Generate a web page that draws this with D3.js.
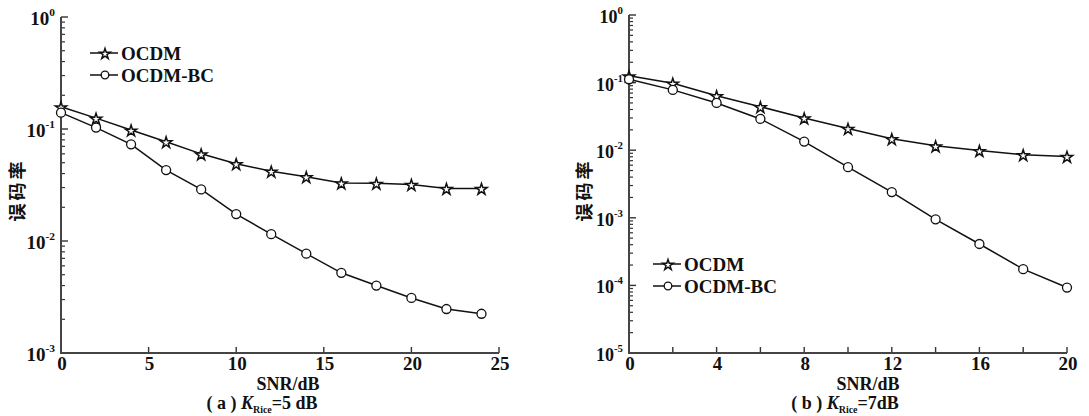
<!DOCTYPE html>
<html>
<head>
<meta charset="utf-8">
<script src="https://cdn.jsdelivr.net/npm/d3@7"></script>
<style>
  body { margin: 0; background: #fff; }
  svg text { font-family: "Liberation Serif", "Times New Roman", serif; font-weight: bold; fill: #111; }
  .cjk { font-family: "Noto Sans CJK SC", sans-serif !important; font-weight: bold; }
</style>
</head>
<body>
<svg id="viz" width="1089" height="416"></svg>
<script>
const svg = d3.select("#viz")

// data
const snrA = [0, 2, 4, 6, 8, 10, 12, 14, 16, 18, 20, 22, 24]
const ocdmA = [0.158, 0.125, 0.098, 0.077, 0.060, 0.049, 0.042, 0.0375, 0.033, 0.0328, 0.032, 0.0295, 0.0295]
const ocdmBcA = [0.14, 0.103, 0.073, 0.043, 0.0289, 0.0174, 0.0115, 0.0077, 0.0052, 0.0040, 0.0031, 0.00247, 0.00224]

const snrB = [0, 2, 4, 6, 8, 10, 12, 14, 16, 18, 20]
const ocdmB = [0.126, 0.098, 0.064, 0.044, 0.030, 0.021, 0.0148, 0.0116, 0.0099, 0.0086, 0.0081]
const ocdmBcB = [0.112, 0.078, 0.05, 0.029, 0.0134, 0.0056, 0.0024, 0.00095, 0.00041, 0.000174, 0.000093]

const seriesNames = ["OCDM", "OCDM-BC"]
const xTicksA = [0, 5, 10, 15, 20, 25]
const xTicksB = [0, 2, 4, 6, 8, 10, 12, 14, 16, 18, 20]
const xLabelsB = [0, 4, 8, 12, 16, 20]

const star = d3.symbol().type(d3.symbolStar)

function drawPanel(opt) {

    const x = d3.scaleLinear().domain(opt.xDomain).range([opt.left, opt.right])
    const y = d3.scaleLog().domain(opt.yDomain).range([opt.bottom, opt.top])
    const g = svg.append("g")

    // log ticks on the y axis, pointing inward
    const exps = d3.range(Math.log10(opt.yDomain[0]), Math.log10(opt.yDomain[1]) + 1)
    exps.forEach(function(e) {
        if (e < Math.log10(opt.yDomain[1])) {
            d3.range(2, 10).forEach(function(m) {
                const v = m * Math.pow(10, e)
                g.append("line")
                    .attr("x1", opt.left).attr("x2", opt.left + 4)
                    .attr("y1", y(v)).attr("y2", y(v))
                    .attr("stroke", "#333").attr("stroke-width", 1.2)
            })
        }
        g.append("line")
            .attr("x1", opt.left).attr("x2", opt.left + 7)
            .attr("y1", y(Math.pow(10, e))).attr("y2", y(Math.pow(10, e)))
            .attr("stroke", "#333").attr("stroke-width", 1.4)

        const t = g.append("text")
            .attr("x", opt.left - 6)
            .attr("y", y(Math.pow(10, e)) + 8)
            .attr("text-anchor", "end")
            .style("font-size", opt.tickFont + "px")
        t.append("tspan").text("10")
        t.append("tspan").attr("dy", -9).style("font-size", (opt.tickFont * 0.6) + "px").text(e)
    })

    // x ticks pointing up
    opt.xTicks.forEach(function(v) {
        g.append("line")
            .attr("x1", x(v)).attr("x2", x(v))
            .attr("y1", opt.bottom).attr("y2", opt.bottom - 6)
            .attr("stroke", "#333").attr("stroke-width", 1.4)
    })
    opt.xLabels.forEach(function(v) {
        g.append("text")
            .attr("x", x(v) + 1).attr("y", opt.bottom + 17)
            .attr("text-anchor", "middle")
            .style("font-size", "19px")
            .text(v)
    })

    // axis lines
    g.append("path")
        .attr("d", "M" + opt.left + "," + opt.top + "V" + opt.bottom + "H" + opt.right)
        .attr("fill", "none").attr("stroke", "#444").attr("stroke-width", 2)

    const line = d3.line()
        .x(function(d) { return x(d[0]) })
        .y(function(d) { return y(d[1]) })

    opt.series.forEach(function(s, i) {
        const pts = opt.xs.map(function(v, j) { return [v, s[j]] })
        g.append("path").datum(pts)
            .attr("d", line)
            .attr("fill", "none").attr("stroke", "#111").attr("stroke-width", 1.5)
        pts.forEach(function(p) { marker(g, i, x(p[0]), y(p[1])) })
    })

    // legend
    seriesNames.forEach(function(name, i) {
        const ly = opt.legend[1] + i * 22
        g.append("line")
            .attr("x1", opt.legend[0]).attr("x2", opt.legend[0] + 28)
            .attr("y1", ly).attr("y2", ly)
            .attr("stroke", "#111").attr("stroke-width", 1.5)
        marker(g, i, opt.legend[0] + 15, ly, true)
        g.append("text")
            .attr("x", opt.legend[0] + 31).attr("y", ly + 7)
            .style("font-size", "19px")
            .text(name)
    })

    // axis titles
    g.append("text")
        .attr("x", opt.xTitleX).attr("y", 390)
        .attr("text-anchor", "middle")
        .style("font-size", "18px")
        .text("SNR/dB")

    g.append("text")
        .attr("class", "cjk")
        .attr("transform", "translate(" + opt.yTitleX + ",190) rotate(-90)")
        .attr("text-anchor", "middle")
        .style("font-size", "18px")
        .style("letter-spacing", "3px")
        .text("误码率")

    const cap = g.append("text")
        .attr("x", opt.capX).attr("y", 409)
        .attr("text-anchor", "middle")
        .style("font-size", "18px")
    cap.append("tspan").text("( " + opt.letter + " ) ")
    cap.append("tspan").style("font-style", "italic").text("K")
    cap.append("tspan").attr("dy", 4).style("font-size", "10px").text("Rice")
    cap.append("tspan").attr("dy", -4).text(opt.kText)
}

function marker(g, i, cx, cy, small) {
    if (i === 0) {
        g.append("path")
            .attr("d", star.size(small ? 34 : 40)())
            .attr("transform", "translate(" + cx + "," + (cy + 1) + ")")
            .attr("fill", "#fff").attr("stroke", "#111").attr("stroke-width", 1.5)
    } else {
        g.append("circle")
            .attr("cx", cx).attr("cy", cy).attr("r", small ? 3.8 : 4.5)
            .attr("fill", "#fff").attr("stroke", "#111").attr("stroke-width", 1.3)
    }
}

drawPanel({
    left: 61, right: 499, top: 17, bottom: 353,
    xDomain: [0, 25], yDomain: [1e-3, 1],
    xTicks: xTicksA, xLabels: xTicksA, xs: snrA,
    series: [ocdmA, ocdmBcA],
    tickFont: 19,
    legend: [90, 53],
    xTitleX: 288, yTitleX: 24, capX: 262,
    letter: "a", kText: "=5 dB"
})

drawPanel({
    left: 629, right: 1067, top: 15, bottom: 353,
    xDomain: [0, 20], yDomain: [1e-5, 1],
    xTicks: xTicksB, xLabels: xLabelsB, xs: snrB,
    series: [ocdmB, ocdmBcB],
    tickFont: 18,
    legend: [653, 264],
    xTitleX: 868, yTitleX: 591, capX: 845,
    letter: "b", kText: "=7dB"
})
</script>
</body>
</html>
